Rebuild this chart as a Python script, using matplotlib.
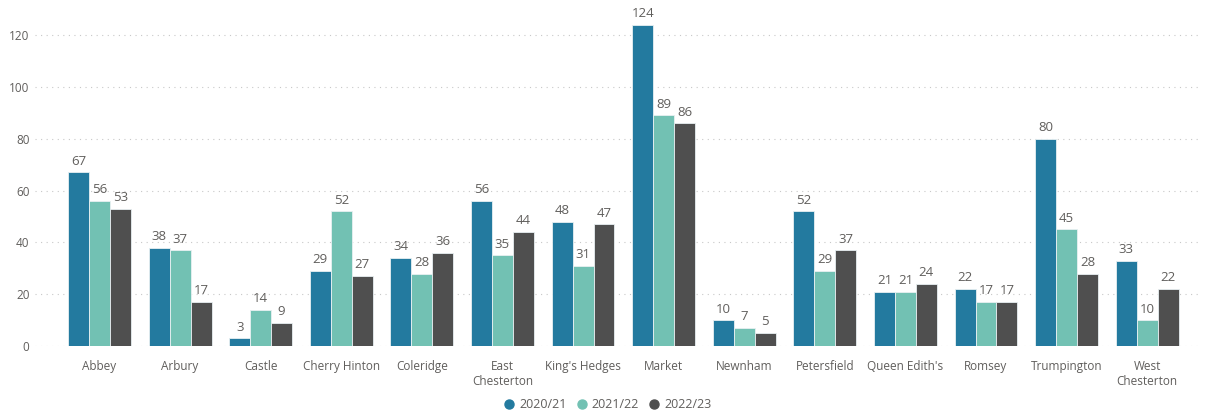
import numpy as np
import matplotlib
matplotlib.use("Agg")
import matplotlib.pyplot as plt
from matplotlib.lines import Line2D

wards = ["Abbey", "Arbury", "Castle", "Cherry Hinton", "Coleridge", "East\nChesterton",
         "King's Hedges", "Market", "Newnham", "Petersfield", "Queen Edith's", "Romsey",
         "Trumpington", "West\nChesterton"]
y2020 = [67, 38, 3, 29, 34, 56, 48, 124, 10, 52, 21, 22, 80, 33]
y2021 = [56, 37, 14, 52, 28, 35, 31, 89, 7, 29, 21, 17, 45, 10]
y2022 = [53, 17, 9, 27, 36, 44, 47, 86, 5, 37, 24, 17, 28, 22]
series = ["2020/21", "2021/22", "2022/23"]
colors = ["#237A9F", "#72C1B3", "#4F4F4F"]

plt.rcParams['font.family'] = ['Open Sans', 'DejaVu Sans']
txt = "#605E5C"

fig = plt.figure(figsize=(12.08, 4.17), dpi=100)
ax = fig.add_axes([0.029, 0.170, 0.964, 0.808])

x = np.arange(len(wards))
w = 0.26
for i, (vals, c) in enumerate(zip([y2020, y2021, y2022], colors)):
    pos = x + (i - 1) * w
    ax.bar(pos, vals, width=w, color=c, edgecolor="#E8F0F2", linewidth=0.6, zorder=3)
    for p, v in zip(pos, vals):
        ax.text(p, v + 1.8, str(v), ha="center", va="bottom", fontsize=9.5, color=txt, clip_on=False)

ax.set_xlim(-0.8, 13.65)
ax.set_ylim(0, 130)
ax.set_yticks(range(0, 121, 20))
ax.set_xticks(x)
ax.set_xticklabels(wards, fontsize=8.5, color=txt, linespacing=1.25)
ax.tick_params(axis="y", labelsize=8.5, colors=txt, length=0, pad=4)
ax.tick_params(axis="x", length=0, pad=10)
ax.yaxis.grid(True, linestyle=(0, (1, 4)), color="#C8C8C8", linewidth=0.8)
ax.set_axisbelow(True)
for s in ax.spines.values():
    s.set_visible(False)

handles = [Line2D([], [], marker="o", linestyle="", color=c, markersize=6.5) for c in colors]
fig.legend(handles, series, loc="center", bbox_to_anchor=(0.5, 0.03), ncol=3, frameon=False,
           fontsize=9, handletextpad=-0.2, columnspacing=0.2, labelcolor=txt)

fig.savefig("out.png", dpi=100)
